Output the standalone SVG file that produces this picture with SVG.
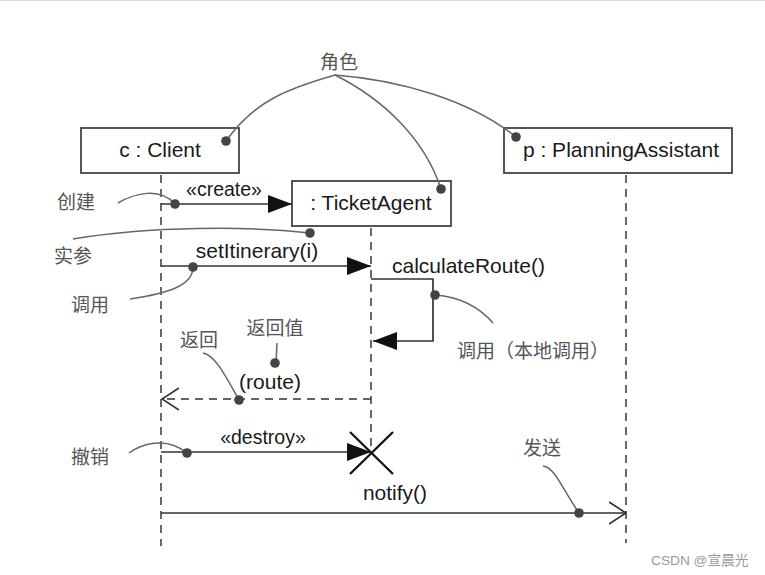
<svg xmlns="http://www.w3.org/2000/svg" width="765" height="575" viewBox="0 0 765 575">
<style>
.box{fill:#fff;stroke:#444;stroke-width:1.8}
.life{stroke:#444;stroke-width:1.6;stroke-dasharray:8 6;fill:none}
.msg{stroke:#333;stroke-width:1.7;fill:none}
.note{stroke:#666;stroke-width:1.5;fill:none}
.dot{fill:#444}
.lbl{font-family:"Liberation Sans",Arial,sans-serif;font-size:21px;fill:#1a1a1a}
.st{font-size:19.5px}
.ann{font-family:"Noto Sans CJK SC","Liberation Sans",sans-serif;font-size:19px;fill:#555}
.wm{font-family:"Liberation Sans","Noto Sans CJK SC",sans-serif;font-size:13.7px;fill:#999}
</style>
<defs>
<marker id="fill" markerWidth="24" markerHeight="18" refX="24" refY="9" orient="auto" markerUnits="userSpaceOnUse"><path d="M0,0 L24,9 L0,18 Z" fill="#111"/></marker>
<marker id="open" markerWidth="18" markerHeight="24" refX="17" refY="12" orient="auto" markerUnits="userSpaceOnUse"><path d="M0,1 L17,12 L0,23" fill="none" stroke="#333" stroke-width="1.7"/></marker>
</defs>
<line x1="0" y1="0.5" x2="765" y2="0.5" stroke="#ddd" stroke-width="1"/>

<g id="client">
<rect class="box" x="81" y="128" width="158" height="45"/>
<text class="lbl" x="160" y="157" text-anchor="middle">c : Client</text>
<line class="life" x1="161" y1="175" x2="161" y2="546"/>
</g>
<g id="ticketagent">
<rect class="box" x="292" y="181" width="159" height="45"/>
<text class="lbl" x="371" y="210" text-anchor="middle">: TicketAgent</text>
<line class="life" x1="371" y1="228" x2="371" y2="450"/>
</g>
<g id="planningassistant">
<rect class="box" x="504" y="128" width="228" height="45"/>
<text class="lbl" x="621" y="157" text-anchor="middle">p : PlanningAssistant</text>
<line class="life" x1="626" y1="175" x2="626" y2="543"/>
</g>

<g id="connectors">
<line class="msg" x1="161" y1="204" x2="292" y2="204" marker-end="url(#fill)"/>
<text class="lbl st" x="224" y="196" text-anchor="middle">«create»</text>
<line class="msg" x1="161" y1="266" x2="371" y2="266" marker-end="url(#fill)"/>
<text class="lbl" x="257" y="258" text-anchor="middle">setItinerary(i)</text>
<polyline class="msg" points="371,279 433,279 433,341 373,341" marker-end="url(#fill)"/>
<text class="lbl" x="392" y="273">calculateRoute()</text>
<line class="msg" x1="371" y1="399" x2="162" y2="399" stroke-dasharray="8 6" marker-end="url(#open)"/>
<text class="lbl" x="270" y="389" text-anchor="middle">(route)</text>
<line class="msg" x1="161" y1="452" x2="371" y2="452" marker-end="url(#fill)"/>
<text class="lbl st" x="263" y="444" text-anchor="middle">«destroy»</text>
<g stroke="#111" stroke-width="2.3"><line x1="350" y1="432" x2="393" y2="474"/><line x1="393" y1="432" x2="350" y2="474"/></g>
<line class="msg" x1="161" y1="513" x2="626" y2="513" marker-end="url(#open)"/>
<text class="lbl" x="395" y="500" text-anchor="middle">notify()</text>
</g>

<g id="annotations">
<text class="ann" x="339" y="69" text-anchor="middle">角色</text>
<path class="note" d="M335,75 C290,88 255,100 226,141"/>
<path class="note" d="M335,75 C385,100 425,140 441,189"/>
<path class="note" d="M335,75 C400,80 470,100 516,137"/>
<circle class="dot" cx="226" cy="141" r="4.8"/>
<circle class="dot" cx="441" cy="189" r="4.8"/>
<circle class="dot" cx="516" cy="137" r="4.8"/>

<text class="ann" x="76" y="209" text-anchor="middle">创建</text>
<path class="note" d="M118,203 C135,193 160,187 175,204"/>
<circle class="dot" cx="175" cy="204" r="4.8"/>

<text class="ann" x="73" y="263" text-anchor="middle">实参</text>
<path class="note" d="M73,239 C150,226 250,226 310,233"/>
<circle class="dot" cx="310" cy="233" r="4.8"/>

<text class="ann" x="90" y="312" text-anchor="middle">调用</text>
<path class="note" d="M130,299 C170,293 193,285 193,267"/>
<circle class="dot" cx="193" cy="267" r="4.8"/>

<path class="note" d="M435,295 C460,297 480,308 493,323"/>
<circle class="dot" cx="435" cy="295" r="4.8"/>
<text class="ann" x="457" y="358" font-size="18.5">调用（本地调用）</text>

<text class="ann" x="275" y="335" text-anchor="middle">返回值</text>
<line class="note" x1="277" y1="343" x2="276" y2="363"/>
<circle class="dot" cx="275" cy="363" r="4.8"/>

<text class="ann" x="199" y="347" text-anchor="middle">返回</text>
<path class="note" d="M203,353 C215,355 225,375 239,400"/>
<circle class="dot" cx="239" cy="400" r="4.8"/>

<text class="ann" x="90" y="464" text-anchor="middle">撤销</text>
<path class="note" d="M129,453 C140,445 165,435 187,453"/>
<circle class="dot" cx="187" cy="453" r="4.8"/>

<text class="ann" x="542" y="455" text-anchor="middle">发送</text>
<path class="note" d="M543,466 C555,468 560,485 579,513"/>
<circle class="dot" cx="579" cy="513" r="4.8"/>

<text class="wm" x="651" y="565">CSDN @宣晨光</text>
</g>
</svg>
